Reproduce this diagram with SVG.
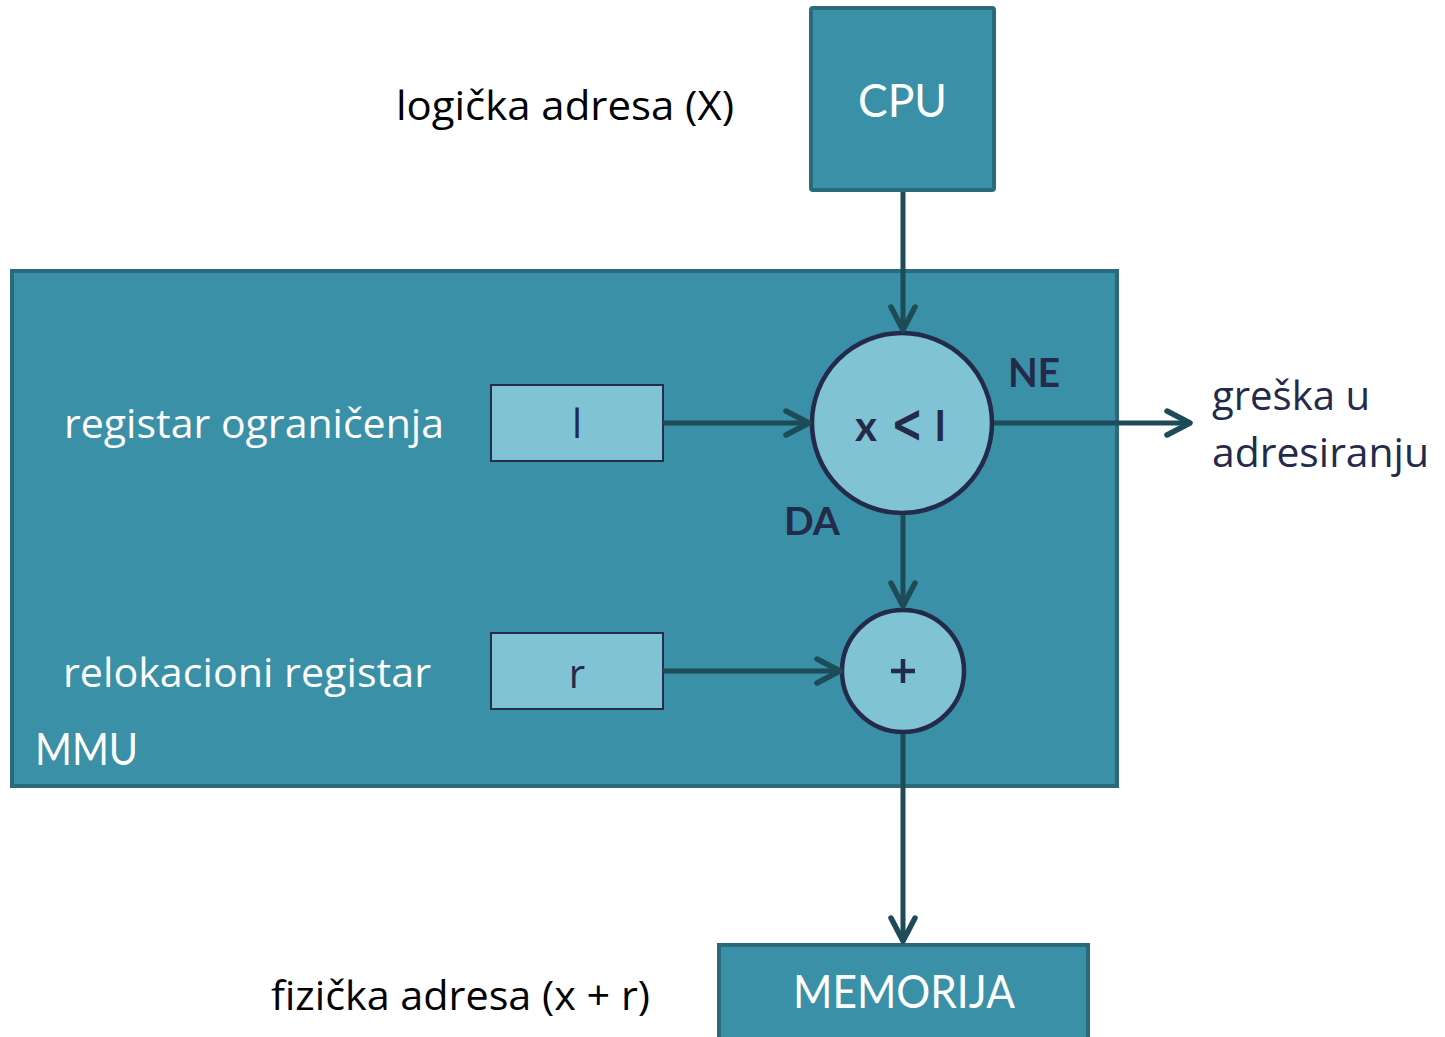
<svg xmlns="http://www.w3.org/2000/svg" width="1445" height="1037" viewBox="0 0 1445 1037">
<style>
.box{fill:#3a90a6;stroke:#2a6a7b;stroke-width:4}
.reg{fill:#7fc3d4;stroke:#262c4c;stroke-width:2}
.op{fill:#7fc3d4;stroke:#242a4a;stroke-width:4.5}
.conn{stroke:#1d4b57;stroke-width:5;fill:none}
.cal{font-family:"Open Sans","Noto Sans","Liberation Sans",sans-serif;font-size:40px}
.gill{font-family:Lato,"Open Sans",sans-serif}
.white{fill:#ffffff}
.dark{fill:#232a4a}
.black{fill:#000000}
</style>
<defs>
<marker id="arr" markerUnits="userSpaceOnUse" markerWidth="40" markerHeight="40" viewBox="-30 -20 40 40" refX="0" refY="0" orient="auto" overflow="visible">
<path d="M-23,-12 L0,0 L-23,12" fill="none" stroke="#1d4b57" stroke-width="5.5" stroke-linecap="round" stroke-linejoin="round"/>
</marker>
</defs>

<g id="cpu">
<rect class="box" x="811" y="8" width="183" height="182" rx="2"/>
<text class="gill white" x="902.5" y="117" font-size="47" text-anchor="middle" textLength="89" lengthAdjust="spacingAndGlyphs">CPU</text>
</g>

<text id="lbl-logicka" class="cal black" x="396" y="120" textLength="338" lengthAdjust="spacingAndGlyphs">logička adresa (X)</text>

<g id="mmu">
<rect class="box" x="12" y="271" width="1105" height="515"/>
<text class="gill white" x="35" y="765" font-size="45" textLength="103" lengthAdjust="spacingAndGlyphs">MMU</text>
<text class="cal white" x="64" y="438" textLength="380" lengthAdjust="spacingAndGlyphs">registar ograničenja</text>
<text class="cal white" x="63" y="687" textLength="368" lengthAdjust="spacingAndGlyphs">relokacioni registar</text>
</g>

<g id="reg-l">
<rect class="reg" x="491" y="385" width="172" height="76"/>
<text class="cal dark" x="577" y="438" text-anchor="middle">l</text>
</g>

<g id="reg-r">
<rect class="reg" x="491" y="633" width="172" height="76"/>
<text class="cal dark" x="577" y="688" text-anchor="middle">r</text>
</g>

<g id="cmp">
<circle class="op" cx="902" cy="423" r="90"/>
<text class="gill dark" x="855" y="441" font-size="42" font-weight="bold">x<tspan x="891" y="442" font-family="DejaVu Sans, sans-serif" font-size="54" font-weight="bold" textLength="32" lengthAdjust="spacingAndGlyphs">&lt;</tspan><tspan x="935" y="441">l</tspan></text>
</g>

<g id="add">
<circle class="op" cx="903" cy="671" r="61"/>
<path d="M891,671 H915 M903,659 V683" stroke="#232a4a" stroke-width="4.5" fill="none"/>
</g>

<g id="memorija">
<rect class="box" x="719" y="945" width="369" height="100"/>
<text class="gill white" x="904" y="1008" font-size="46" text-anchor="middle" textLength="222" lengthAdjust="spacingAndGlyphs">MEMORIJA</text>
</g>

<text id="lbl-fizicka" class="cal black" x="271" y="1010" textLength="379" lengthAdjust="spacingAndGlyphs">fizička adresa (x + r)</text>

<g id="lbl-greska">
<text class="cal dark" x="1212" y="410" textLength="158" lengthAdjust="spacingAndGlyphs">greška u</text>
<text class="cal dark" x="1212" y="467" textLength="217" lengthAdjust="spacingAndGlyphs">adresiranju</text>
</g>

<text id="lbl-ne" class="gill dark" x="1008" y="387" font-size="40" font-weight="bold" textLength="52" lengthAdjust="spacingAndGlyphs">NE</text>
<text id="lbl-da" class="gill dark" x="784" y="535" font-size="38" font-weight="bold" textLength="56" lengthAdjust="spacingAndGlyphs">DA</text>

<g id="connectors">
<line class="conn" x1="903" y1="192" x2="903" y2="330" marker-end="url(#arr)"/>
<line class="conn" x1="663" y1="423" x2="809" y2="423" marker-end="url(#arr)"/>
<line class="conn" x1="994" y1="423" x2="1190" y2="423" marker-end="url(#arr)"/>
<line class="conn" x1="903" y1="515" x2="903" y2="606" marker-end="url(#arr)"/>
<line class="conn" x1="663" y1="671" x2="840" y2="671" marker-end="url(#arr)"/>
<line class="conn" x1="903" y1="734" x2="903" y2="941" marker-end="url(#arr)"/>
</g>
</svg>
